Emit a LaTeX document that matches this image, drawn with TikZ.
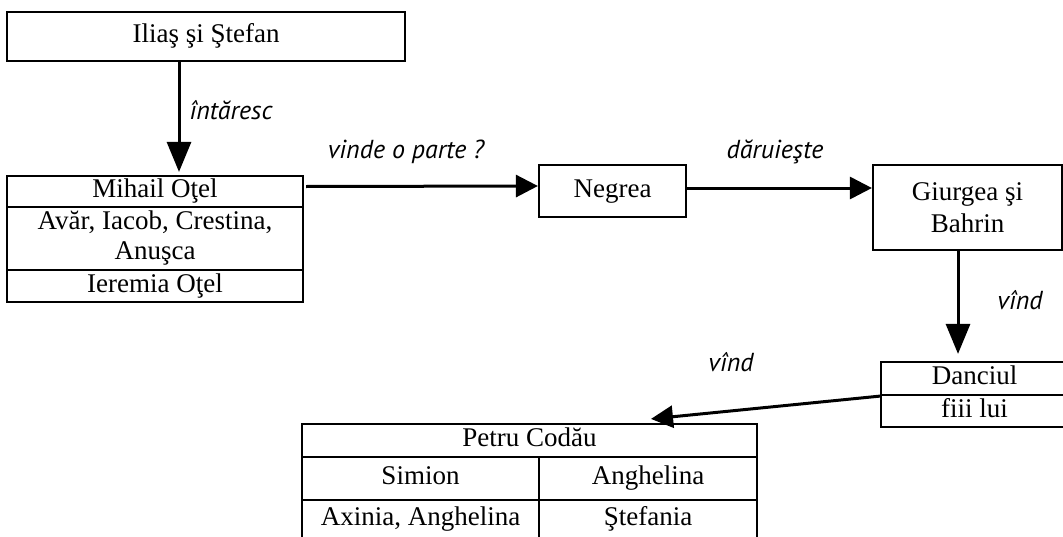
\documentclass[tikz,border=0pt]{standalone}
\usepackage{fontspec}
\setmainfont{Liberation Serif}
\newfontfamily\lblfont{PT Sans}
\usetikzlibrary{arrows.meta}

\begin{document}
\begin{tikzpicture}[
            x = 0.5pt, y = -0.5pt,
            every node/.style={font=\fontsize{13.5}{16}\selectfont, inner sep=0pt, align=center},
            box/.style={draw, line width=1.1pt},
            row/.style={box, text height=0.78em, text depth=0.14em},
            lbl/.style={font=\fontsize{13}{15}\selectfont\lblfont\itshape},
            arrow/.style={line width=1.5pt, -{Triangle[length=11pt, width=11pt]}},
            downarrow/.style={line width=1.5pt, -{Triangle[length=15pt, width=12pt]}},
            ]
        \useasboundingbox (0, 0) rectangle (1063, 536);

        % boxes
        \node[row, minimum width=199pt, minimum height=24.5pt] (ilias) at (206, 36.5) {Ilia\c{s} \c{s}i \c{S}tefan};

        \node[row, minimum width=148pt, minimum height=15.5pt] (mihail) at (155, 191.5) {Mihail O\c{t}el};
        \node[box, minimum width=148pt, minimum height=31.5pt] (avar) at (155, 238.5) {Av\u{a}r, Iacob, Crestina,\\[-1pt] Anu\c{s}ca};
        \node[row, minimum width=148pt, minimum height=16pt] (ieremia) at (155, 286) {Ieremia O\c{t}el};

        \node[row, minimum width=73.5pt, minimum height=26pt] (negrea) at (612.5, 191) {Negrea};
        \node[box, minimum width=94.5pt, minimum height=42.5pt] (giurgea) at (967.5, 207.5) {Giurgea \c{s}i\\ Bahrin};

        \node[row, minimum width=93.5pt, minimum height=16.5pt] (danciul) at (974.5, 378.5) {Danciul};
        \node[row, minimum width=93.5pt, minimum height=16pt] (fiii) at (974.5, 411) {fiii lui};

        \node[row, minimum width=227.5pt, minimum height=16.5pt] (petru) at (529.5, 440.5) {Petru Cod\u{a}u};
        \node[row, minimum width=118.5pt, minimum height=21.5pt] (simion) at (420.5, 478.5) {Simion};
        \node[row, minimum width=109pt, minimum height=21.5pt] (anghelina) at (648, 478.5) {Anghelina};
        \node[row, minimum width=118.5pt, minimum height=19pt] (axinia) at (420.5, 519) {Axinia, Anghelina};
        \node[row, minimum width=109pt, minimum height=19pt] (stefania) at (648, 519) {\c{S}tefania};

        % labels
        \node[lbl] (intaresc) at (231, 110) {\^{\i}nt\u{a}resc};
        \node[lbl] (vindeparte) at (406, 152) {vinde o parte ?};
        \node[lbl] (daruieste) at (775, 152) {d\u{a}ruie\c{s}te};
        \node[lbl] (vind1) at (1020, 300) {v\^{\i}nd};
        \node[lbl] (vind2) at (731, 362) {v\^{\i}nd};

        % connectors
        \draw[downarrow, shorten >=1.5pt] ([xshift=-13.5pt]ilias.south) -- ([xshift=12pt]mihail.north);
        \draw[arrow, shorten <=1pt] ([yshift=2.5pt]mihail.east) -- ([yshift=2.5pt]negrea.west);
        \draw[arrow] ([yshift=1.5pt]negrea.east) -- ([yshift=1.5pt]negrea.east -| giurgea.west);
        \draw[downarrow, shorten >=3.5pt] ([xshift=-4.75pt]giurgea.south) -- ([xshift=-4.75pt]giurgea.south |- danciul.north);
        \draw[arrow] (danciul.south west) -- ([xshift=60.75pt, yshift=2pt]petru.north);
    \end{tikzpicture}
\end{document}
